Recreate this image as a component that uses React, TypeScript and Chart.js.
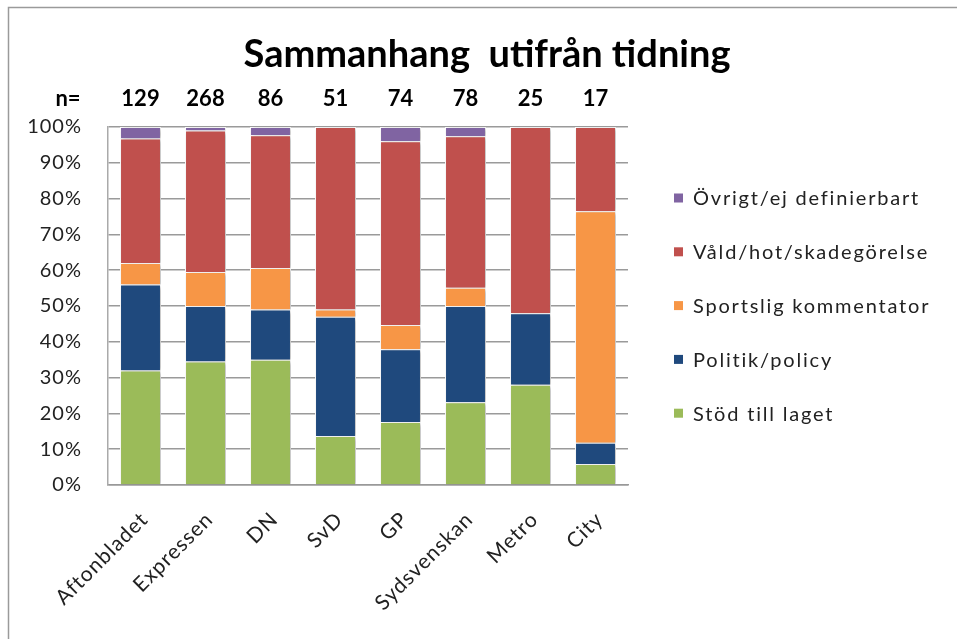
import React, { useEffect, useRef } from "react";
import { Chart, registerables } from "chart.js";

Chart.register(...registerables);

const categories = ["Aftonbladet", "Expressen", "DN", "SvD", "GP", "Sydsvenskan", "Metro", "City"];
const nCounts = [129, 268, 86, 51, 74, 78, 25, 17];
const stodTillLaget = [32, 34.5, 35, 13.7, 17.6, 23.1, 28, 5.9];
const politikPolicy = [24, 15.5, 14, 33.3, 20.3, 26.9, 20, 5.9];
const sportsligKommentator = [6, 9.5, 11.6, 2, 6.8, 5.1, 0, 64.7];
const valdHotSkadegorelse = [34.8, 39.5, 37.1, 51, 51.3, 42.3, 52, 23.5];
const ovrigtEjDefinierbart = [3.2, 1, 2.3, 0, 4, 2.6, 0, 0];
const yTicks = [0, 10, 20, 30, 40, 50, 60, 70, 80, 90, 100];

const titleText = "Sammanhang  utifrån tidning";
const FONT = "Lato, 'Open Sans', sans-serif";

const overlayPlugin = {
  id: "overlay",
  beforeDraw(chart: any) {
    chart.ctx.letterSpacing = "1px";
  },
  beforeDatasetsDraw(chart: any) {
    const ctx = chart.ctx;
    ctx.letterSpacing = "0px";
    ctx.save();
    ctx.shadowColor = "rgba(0,0,0,0.28)";
    ctx.shadowBlur = 4;
    ctx.shadowOffsetX = 2;
    ctx.shadowOffsetY = 1;
  },
  afterDatasetsDraw(chart: any) {
    chart.ctx.restore();
  },
  afterDraw(chart: any) {
    const ctx = chart.ctx;
    const xs = chart.scales.x;
    ctx.save();
    ctx.letterSpacing = "0px";
    // frame
    ctx.strokeStyle = "#9a9a9a";
    ctx.lineWidth = 1.5;
    ctx.beginPath();
    ctx.moveTo(8.5, 700);
    ctx.lineTo(8.5, 7.5);
    ctx.lineTo(1000, 7.5);
    ctx.stroke();
    // title
    ctx.fillStyle = "#000";
    ctx.font = `bold 38px ${FONT}`;
    ctx.textAlign = "center";
    ctx.textBaseline = "middle";
    ctx.fillText(titleText, 487, 55);
    // n row
    ctx.font = `bold 22px ${FONT}`;
    ctx.fillText("n=", 68, 99);
    categories.forEach((c, i) => {
      ctx.fillText(String(nCounts[i]), xs.getPixelForValue(i), 99);
    });
    // legend
    const items = chart.data.datasets.slice().reverse();
    ctx.font = `20px ${FONT}`;
    ctx.letterSpacing = "1.8px";
    ctx.textAlign = "left";
    items.forEach((ds: any, k: number) => {
      const y = 198 + k * 53.8;
      ctx.fillStyle = ds.backgroundColor;
      ctx.fillRect(674, y - 4.5, 9, 9);
      ctx.fillStyle = "#222";
      ctx.fillText(ds.label, 693, y + 1);
    });
    ctx.restore();
    ctx.letterSpacing = "0px";
  },
};

export default function App() {
  const ref = useRef<HTMLCanvasElement>(null);
  useEffect(() => {
    if (!ref.current) return;
    const mk = (label: string, data: number[], color: string) => ({
      label,
      data,
      backgroundColor: color,
      borderColor: "#ffffff",
      borderWidth: 1,
      barPercentage: 0.63,
      categoryPercentage: 1,
    });
    const chart = new Chart(ref.current, {
      type: "bar",
      data: {
        labels: categories,
        datasets: [
          mk("Stöd till laget", stodTillLaget, "#9BBB59"),
          mk("Politik/policy", politikPolicy, "#1F497D"),
          mk("Sportslig kommentator", sportsligKommentator, "#F79646"),
          mk("Våld/hot/skadegörelse", valdHotSkadegorelse, "#C0504D"),
          mk("Övrigt/ej definierbart", ovrigtEjDefinierbart, "#8064A2"),
        ],
      },
      options: {
        animation: false,
        responsive: false,
        layout: { padding: { left: 0, right: 329, top: 127, bottom: 0 } },
        plugins: { legend: { display: false }, tooltip: { enabled: false }, title: { display: false } },
        scales: {
          x: {
            stacked: true,
            grid: { display: false },
            border: { display: true, color: "#999", width: 1.5 },
            ticks: {
              maxRotation: 45,
              minRotation: 45,
              padding: 14,
              labelOffset: 4,
              color: "#222",
              font: { family: FONT, size: 21 },
            },
            afterFit: (s: any) => {
              s.height = 639 - 485;
            },
          },
          y: {
            stacked: true,
            min: 0,
            max: 100,
            afterBuildTicks: (s: any) => {
              s.ticks = yTicks.map((v) => ({ value: v }));
            },
            grid: { color: "#9a9a9a", lineWidth: 1.5, drawTicks: false },
            border: { display: true, color: "#aaa", width: 1.5 },
            ticks: {
              padding: 26,
              color: "#222",
              font: { family: FONT, size: 20 },
              callback: (v: any) => v + "%",
            },
            afterFit: (s: any) => {
              s.width = 108;
            },
          },
        },
      },
      plugins: [overlayPlugin],
    });
    return () => chart.destroy();
  }, []);
  return (
    <div style={{ position: "absolute", left: 0, top: 0, width: 957, height: 639, background: "#fff" }}>
      <canvas ref={ref} width={957} height={639} style={{ display: "block" }} />
    </div>
  );
}
